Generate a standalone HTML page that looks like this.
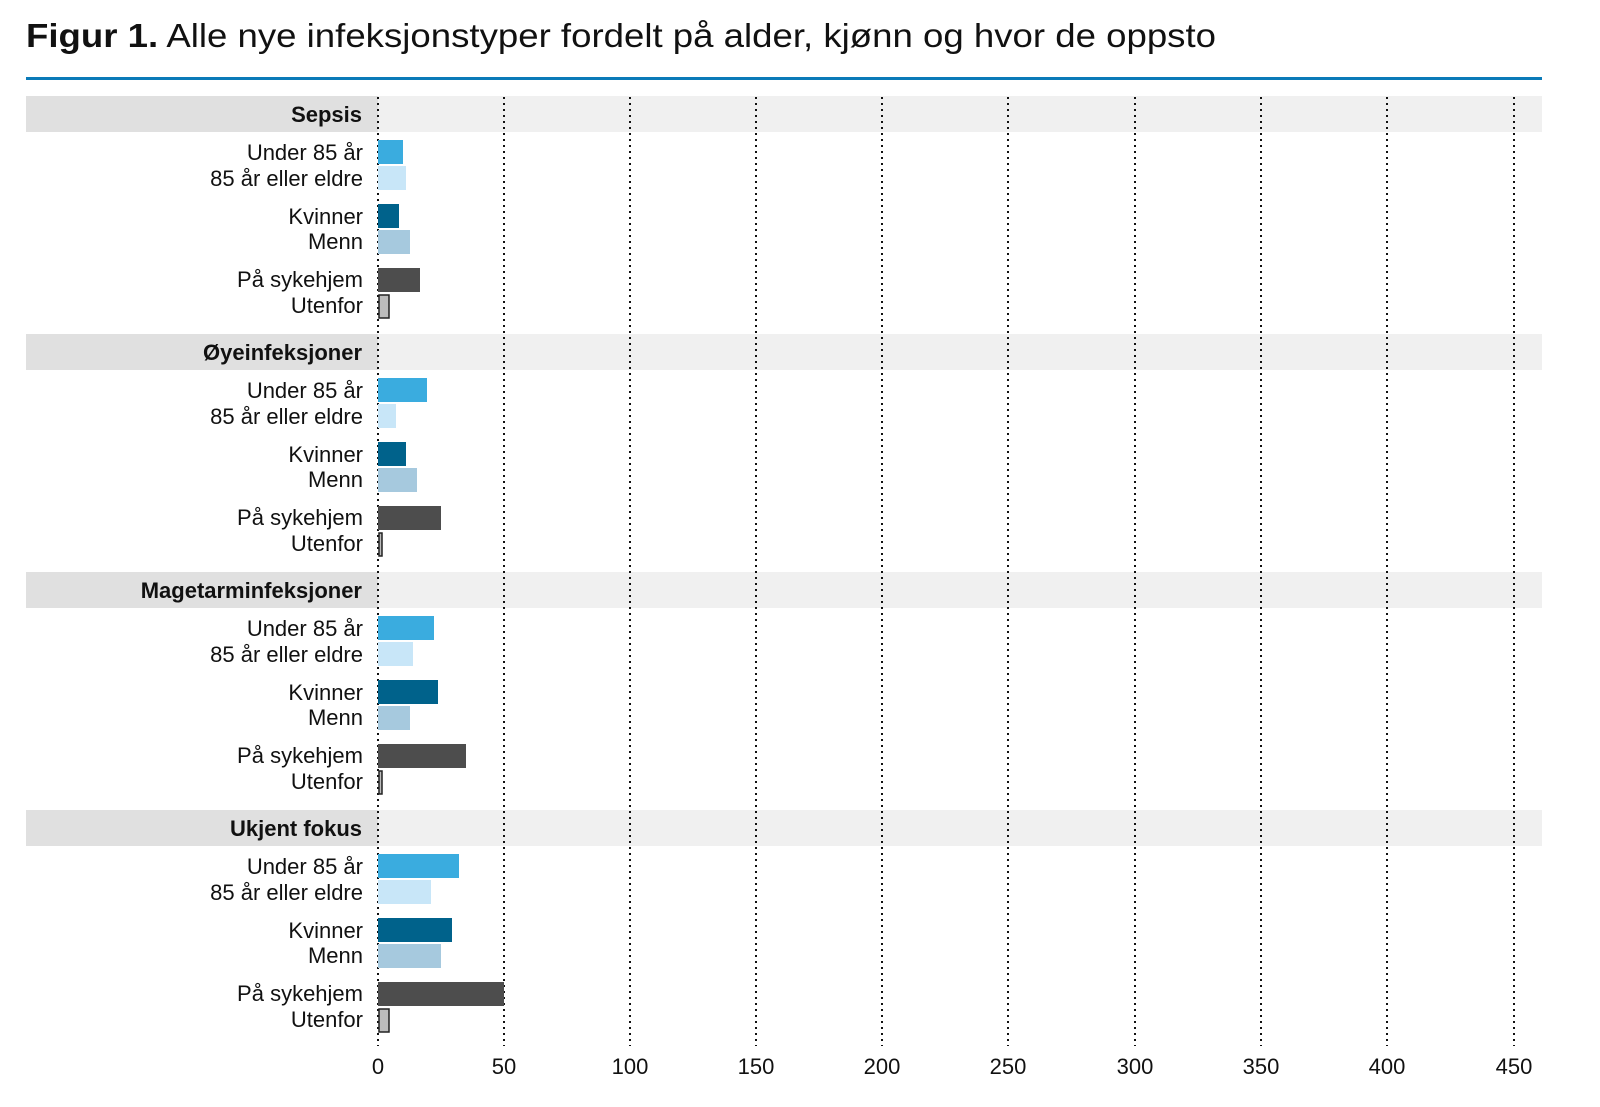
<!DOCTYPE html>
<html><head><meta charset="utf-8"><style>
html,body{margin:0;padding:0;background:#fff;}
svg{display:block;font-family:"Liberation Sans",sans-serif;}
</style></head><body>
<svg width="1600" height="1107" viewBox="0 0 1600 1107" xmlns="http://www.w3.org/2000/svg">
<text x="26" y="47" font-size="33" fill="#111" textLength="1190" lengthAdjust="spacingAndGlyphs"><tspan font-weight="bold">Figur 1.</tspan> Alle nye infeksjonstyper fordelt på alder, kjønn og hvor de oppsto</text>
<rect x="26" y="77" width="1516" height="3" fill="#0a7ab8"/>

<g id="bands">
<rect x="26" y="96" width="352" height="36" fill="#e0e0e0"/><rect x="378" y="96" width="1164" height="36" fill="#f0f0f0"/>
<rect x="26" y="334" width="352" height="36" fill="#e0e0e0"/><rect x="378" y="334" width="1164" height="36" fill="#f0f0f0"/>
<rect x="26" y="572" width="352" height="36" fill="#e0e0e0"/><rect x="378" y="572" width="1164" height="36" fill="#f0f0f0"/>
<rect x="26" y="810" width="352" height="36" fill="#e0e0e0"/><rect x="378" y="810" width="1164" height="36" fill="#f0f0f0"/>
</g>

<g stroke="#111" stroke-width="2" stroke-dasharray="2,4">
<line x1="378" y1="97" x2="378" y2="1046"/>
<line x1="504" y1="97" x2="504" y2="1046"/>
<line x1="630" y1="97" x2="630" y2="1046"/>
<line x1="756" y1="97" x2="756" y2="1046"/>
<line x1="882" y1="97" x2="882" y2="1046"/>
<line x1="1008" y1="97" x2="1008" y2="1046"/>
<line x1="1135" y1="97" x2="1135" y2="1046"/>
<line x1="1261" y1="97" x2="1261" y2="1046"/>
<line x1="1387" y1="97" x2="1387" y2="1046"/>
<line x1="1514" y1="97" x2="1514" y2="1046"/>
</g>

<g font-size="22" fill="#111" text-anchor="middle">
<text x="378" y="1074">0</text><text x="504" y="1074">50</text><text x="630" y="1074">100</text>
<text x="756" y="1074">150</text><text x="882" y="1074">200</text><text x="1008" y="1074">250</text>
<text x="1135" y="1074">300</text><text x="1261" y="1074">350</text><text x="1387" y="1074">400</text>
<text x="1514" y="1074">450</text>
</g>

<g font-size="22" fill="#111" text-anchor="end">
<text x="362" y="122" font-weight="bold">Sepsis</text>
<text x="362" y="360" font-weight="bold">Øyeinfeksjoner</text>
<text x="362" y="598" font-weight="bold">Magetarminfeksjoner</text>
<text x="362" y="836" font-weight="bold">Ukjent fokus</text>
</g>

<g font-size="22" fill="#111" text-anchor="end">
<g transform="translate(0,0)">
<text x="363" y="160">Under 85 år</text><text x="363" y="186">85 år eller eldre</text>
<text x="363" y="224">Kvinner</text><text x="363" y="249">Menn</text>
<text x="363" y="287">På sykehjem</text><text x="363" y="313">Utenfor</text>
</g>
<g transform="translate(0,238)">
<text x="363" y="160">Under 85 år</text><text x="363" y="186">85 år eller eldre</text>
<text x="363" y="224">Kvinner</text><text x="363" y="249">Menn</text>
<text x="363" y="287">På sykehjem</text><text x="363" y="313">Utenfor</text>
</g>
<g transform="translate(0,476)">
<text x="363" y="160">Under 85 år</text><text x="363" y="186">85 år eller eldre</text>
<text x="363" y="224">Kvinner</text><text x="363" y="249">Menn</text>
<text x="363" y="287">På sykehjem</text><text x="363" y="313">Utenfor</text>
</g>
<g transform="translate(0,714)">
<text x="363" y="160">Under 85 år</text><text x="363" y="186">85 år eller eldre</text>
<text x="363" y="224">Kvinner</text><text x="363" y="249">Menn</text>
<text x="363" y="287">På sykehjem</text><text x="363" y="313">Utenfor</text>
</g>
</g>

<g>
<rect x="378" y="140" width="25" height="24" fill="#3aacdf"/>
<rect x="378" y="166" width="28" height="24" fill="#c8e6f8"/>
<rect x="378" y="204" width="21" height="24" fill="#00628b"/>
<rect x="378" y="230" width="32" height="24" fill="#a6c9de"/>
<rect x="378" y="268" width="42" height="24" fill="#4d4d4d"/>
<rect x="379" y="295" width="10" height="23" fill="#bcbcbc" stroke="#222" stroke-width="1.5"/>
<rect x="378" y="378" width="49" height="24" fill="#3aacdf"/>
<rect x="378" y="404" width="18" height="24" fill="#c8e6f8"/>
<rect x="378" y="442" width="28" height="24" fill="#00628b"/>
<rect x="378" y="468" width="39" height="24" fill="#a6c9de"/>
<rect x="378" y="506" width="63" height="24" fill="#4d4d4d"/>
<rect x="379" y="533" width="3" height="23" fill="#bcbcbc" stroke="#222" stroke-width="1.5"/>
<rect x="378" y="616" width="56" height="24" fill="#3aacdf"/>
<rect x="378" y="642" width="35" height="24" fill="#c8e6f8"/>
<rect x="378" y="680" width="60" height="24" fill="#00628b"/>
<rect x="378" y="706" width="32" height="24" fill="#a6c9de"/>
<rect x="378" y="744" width="88" height="24" fill="#4d4d4d"/>
<rect x="379" y="771" width="3" height="23" fill="#bcbcbc" stroke="#222" stroke-width="1.5"/>
<rect x="378" y="854" width="81" height="24" fill="#3aacdf"/>
<rect x="378" y="880" width="53" height="24" fill="#c8e6f8"/>
<rect x="378" y="918" width="74" height="24" fill="#00628b"/>
<rect x="378" y="944" width="63" height="24" fill="#a6c9de"/>
<rect x="378" y="982" width="126" height="24" fill="#4d4d4d"/>
<rect x="379" y="1009" width="10" height="23" fill="#bcbcbc" stroke="#222" stroke-width="1.5"/>
</g>
</svg>
</body></html>
